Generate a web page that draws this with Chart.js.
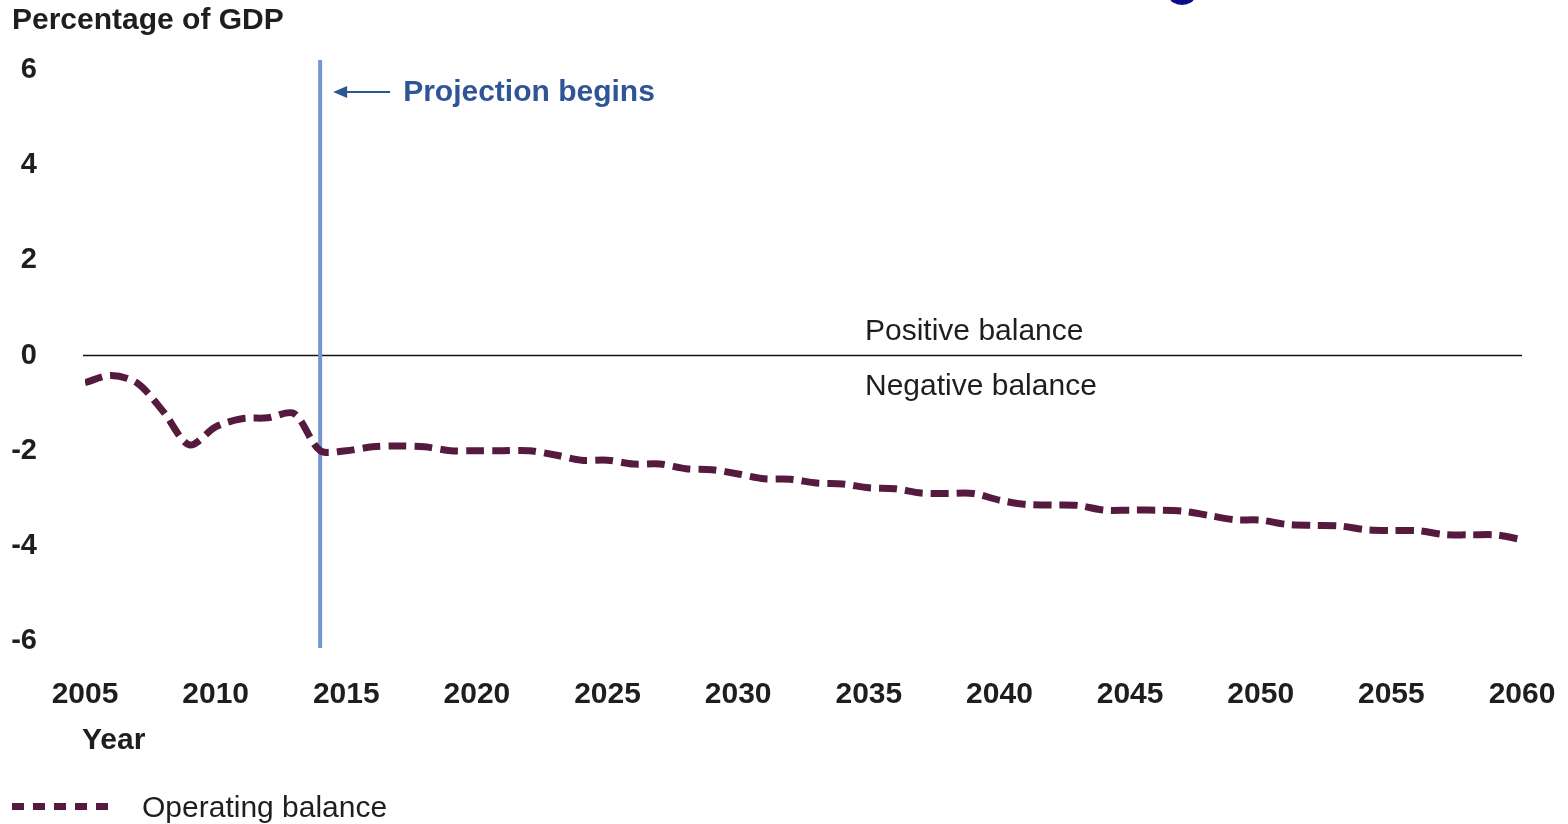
<!DOCTYPE html>
<html>
<head>
<meta charset="utf-8">
<script src="https://cdn.jsdelivr.net/npm/chart.js@4"></script>
<style>
    html, body { margin: 0; padding: 0; background: #ffffff; }
    #wrap { width: 1568px; height: 824px; }
</style>
</head>
<body>
<div id="wrap"><canvas id="balance-chart" width="1568" height="824"></canvas></div>
<script>
const years = [
    2005, 2006, 2007, 2008, 2009, 2010, 2011, 2012, 2013, 2014,
    2015, 2016, 2017, 2018, 2019, 2020, 2021, 2022, 2023, 2024,
    2025, 2026, 2027, 2028, 2029, 2030, 2031, 2032, 2033, 2034,
    2035, 2036, 2037, 2038, 2039, 2040, 2041, 2042, 2043, 2044,
    2045, 2046, 2047, 2048, 2049, 2050, 2051, 2052, 2053, 2054,
    2055, 2056, 2057, 2058, 2059, 2060
];
const operatingBalance = [
    -0.57, -0.42, -0.58, -1.18, -1.88, -1.50, -1.33, -1.31, -1.22, -2.00,
    -2.00, -1.92, -1.90, -1.92, -2.00, -2.00, -2.00, -2.00, -2.09, -2.20,
    -2.20, -2.28, -2.28, -2.38, -2.40, -2.49, -2.59, -2.60, -2.68, -2.70,
    -2.78, -2.80, -2.89, -2.90, -2.90, -3.04, -3.13, -3.14, -3.15, -3.25,
    -3.25, -3.25, -3.27, -3.36, -3.45, -3.46, -3.55, -3.57, -3.58, -3.66,
    -3.68, -3.68, -3.76, -3.77, -3.77, -3.87
];
const yTicks = [-6, -4, -2, 0, 2, 4, 6];
const projectionYear = 2014;
const seriesLabel = 'Operating balance';
const yTitle = 'Percentage of GDP';
const xTitle = 'Year';

const lineColor = '#561a3f';
const textColor = '#1e1e1e';
const fontFamily = '"Liberation Sans", Arial, sans-serif';

// extra bits drawn straight on the canvas: zero line, projection marker, labels, legend
const decorations = {
    id: 'decorations',
    beforeDatasetsDraw(chart) {
        const { ctx, chartArea, scales } = chart;
        const y0 = scales.y.getPixelForValue(0);
        ctx.save();
        ctx.strokeStyle = '#111111';
        ctx.lineWidth = 1.5;
        ctx.beginPath();
        ctx.moveTo(chartArea.left - 2, y0);
        ctx.lineTo(chartArea.right, y0);
        ctx.stroke();

        const xp = scales.x.getPixelForValue(projectionYear);
        ctx.strokeStyle = '#7496d2';
        ctx.lineWidth = 4;
        ctx.beginPath();
        ctx.moveTo(xp, chartArea.top - 10);
        ctx.lineTo(xp, chartArea.bottom + 7);
        ctx.stroke();
        ctx.restore();
    },
    afterDraw(chart) {
        const { ctx, scales } = chart;
        const y0 = scales.y.getPixelForValue(0);
        const xp = scales.x.getPixelForValue(projectionYear);
        ctx.save();

        // arrow + "Projection begins"
        const ay = 92;
        ctx.strokeStyle = '#2f5597';
        ctx.fillStyle = '#2f5597';
        ctx.lineWidth = 2;
        ctx.beginPath();
        ctx.moveTo(xp + 70, ay);
        ctx.lineTo(xp + 20, ay);
        ctx.stroke();
        ctx.beginPath();
        ctx.moveTo(xp + 13, ay);
        ctx.lineTo(xp + 27, ay - 6);
        ctx.lineTo(xp + 27, ay + 6);
        ctx.closePath();
        ctx.fill();
        ctx.font = 'bold 30px ' + fontFamily;
        ctx.textBaseline = 'middle';
        ctx.textAlign = 'left';
        ctx.fillText('Projection begins', xp + 83, ay + 1);

        // balance labels
        ctx.fillStyle = textColor;
        ctx.font = '30px ' + fontFamily;
        ctx.fillText('Positive balance', 865, y0 - 24);
        ctx.fillText('Negative balance', 865, y0 + 31);

        // axis titles
        ctx.font = 'bold 30px ' + fontFamily;
        ctx.fillText(yTitle, 12, 21);
        ctx.fillText(xTitle, 82, 741);

        // legend
        ctx.fillStyle = lineColor;
        for (let i = 0; i < 5; i++) {
            ctx.fillRect(12 + i * 21, 803, 12, 7);
        }
        ctx.fillStyle = textColor;
        ctx.font = '30px ' + fontFamily;
        ctx.fillText(seriesLabel, 142, 809);

        // clipped navy shape at the top edge
        ctx.fillStyle = '#0b0b8c';
        ctx.beginPath();
        ctx.ellipse(1182, -4, 13, 9, 0, 0, Math.PI * 2);
        ctx.fill();

        ctx.restore();
    }
};

new Chart(document.getElementById('balance-chart'), {
    type: 'line',
    data: {
        labels: years,
        datasets: [{
            label: seriesLabel,
            data: years.map((yr, i) => ({ x: yr, y: operatingBalance[i] })),
            borderColor: lineColor,
            borderWidth: 7,
            borderDash: [18, 8],
            borderCapStyle: 'butt',
            tension: 0.3,
            pointRadius: 0,
            fill: false
        }]
    },
    options: {
        responsive: false,
        animation: false,
        layout: {
            padding: { top: 70, right: 46, bottom: 0, left: 0 }
        },
        plugins: {
            legend: { display: false },
            tooltip: { enabled: false }
        },
        scales: {
            x: {
                type: 'linear',
                min: 2005,
                max: 2060,
                grid: { display: false, drawTicks: false },
                border: { display: false },
                afterFit(scale) {
                    scale.height = 183;
                    scale.paddingLeft = 0;
                    scale.paddingRight = 0;
                },
                ticks: {
                    stepSize: 5,
                    autoSkip: false,
                    maxRotation: 0,
                    padding: 36,
                    color: textColor,
                    font: { family: fontFamily, size: 30, weight: 'bold' },
                    callback: (v) => String(v)
                }
            },
            y: {
                min: -6,
                max: 6,
                grid: { display: false, drawTicks: false },
                border: { display: false },
                afterFit(scale) {
                    scale.width = 85;
                    scale.paddingTop = 0;
                    scale.paddingBottom = 0;
                },
                afterBuildTicks(scale) { scale.ticks = yTicks.map(v => ({ value: v })); },
                ticks: {
                    padding: 48,
                    color: textColor,
                    font: { family: fontFamily, size: 29, weight: 'bold' },
                    callback: (v) => String(v)
                }
            }
        }
    },
    plugins: [decorations]
});
</script>
</body>
</html>
